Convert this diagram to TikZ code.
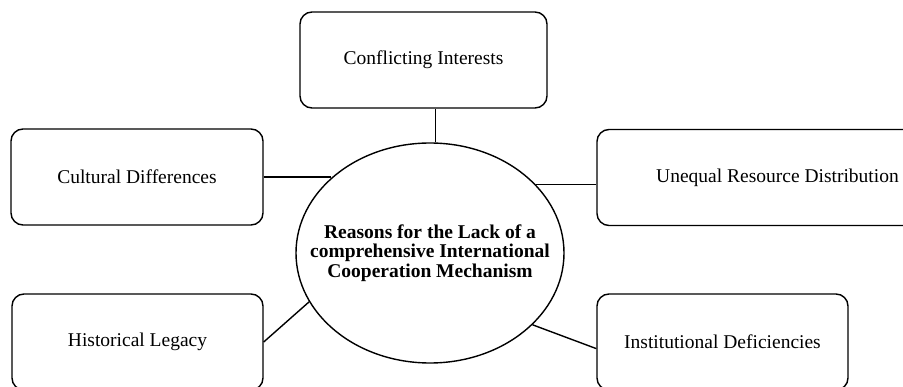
\documentclass[tikz,border=0pt]{standalone}
\usepackage{fontspec}
\setmainfont{Liberation Serif}
\usetikzlibrary{shapes.geometric,calc}
\begin{document}
\begin{tikzpicture}[x=1pt,y=-1pt,
  box/.style={draw, line width=1.4pt, rounded corners=12pt, minimum height=96pt,
    inner sep=0pt, font=\fontsize{19.5}{22}\selectfont},
  hub/.style={draw, ellipse, line width=1.4pt, minimum width=268pt, minimum height=220pt,
    inner sep=0pt},
  hubtext/.style={inner sep=0pt, align=center, font=\fontsize{19.5}{19.5}\selectfont\bfseries},
  link/.style={line width=1.4pt}]
\useasboundingbox (0,0) rectangle (903,387);
\clip (0,0) rectangle (903,387);
\node[box, minimum width=247pt] (top) at (423.5,60) {Conflicting Interests};
\node[box, minimum width=252pt] (cult) at (137,177) {Cultural Differences};
\node[box, minimum width=361pt] (une) at (777.5,177.5) {Unequal Resource Distribution};
\node[box, minimum width=251pt] (hist) at (137.5,342) {Historical Legacy};
\node[box, minimum width=251pt] (inst) at (722.5,342) {Institutional Deficiencies};
\node[hub] (c) at (430,253) {};
\node[hubtext] (ct) at (c.center) {Reasons for the Lack of a\\comprehensive International\\Cooperation Mechanism};
\draw[link] (c.87) -- (c.87 |- top.south);
\draw[link] (cult.east) -- (cult.east -| c.143);
\draw[link] (c.33) -- (c.33 -| une.west);
\draw[link] (hist.east) -- (c.202.5);
\draw[link] (c.325.4) -- (inst.183);
\end{tikzpicture}
\end{document}
